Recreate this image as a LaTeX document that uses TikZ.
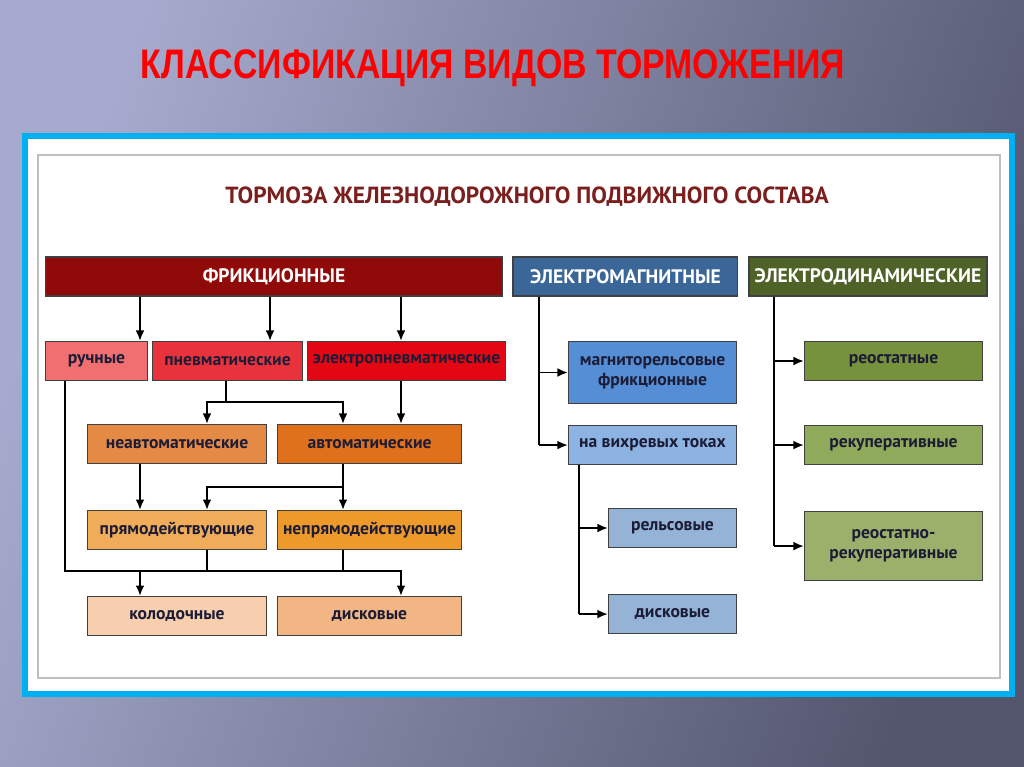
\documentclass[tikz,border=0pt]{standalone}
\usepackage{fontspec}
\setmainfont{PT Sans}
\newfontfamily\titlefont[FakeStretch=0.82]{Liberation Sans}
\usepackage{tikz}
\usetikzlibrary{positioning, arrows.meta, calc}

\definecolor{bgL}{HTML}{A6AACE}
\definecolor{bgR}{HTML}{53566D}
\definecolor{frame}{HTML}{00B0F0}
\definecolor{navytext}{HTML}{1C1C36}
\definecolor{frcol}{HTML}{900A0A}
\definecolor{subcol}{HTML}{7A1E1E}
\definecolor{emcol}{HTML}{3B6698}
\definecolor{edcol}{HTML}{4F6228}
\definecolor{ruchcol}{HTML}{F07072}
\definecolor{pncol}{HTML}{E8333D}
\definecolor{elpncol}{HTML}{E30613}
\definecolor{neavtcol}{HTML}{E48A45}
\definecolor{avtcol}{HTML}{E0711C}
\definecolor{pryamcol}{HTML}{F0AC58}
\definecolor{nepryamcol}{HTML}{EE9A2A}
\definecolor{kolodcol}{HTML}{F8CFAE}
\definecolor{diskcol}{HTML}{F2B584}
\definecolor{mrfcol}{HTML}{558ED5}
\definecolor{vihrcol}{HTML}{8DB3E2}
\definecolor{relscol}{HTML}{95B3D7}
\definecolor{reostcol}{HTML}{76923C}
\definecolor{rekupcol}{HTML}{8FAA5A}
\definecolor{rrcol}{HTML}{9BB06B}

\begin{document}
\begin{tikzpicture}[
  x=0.02cm, y=-0.02cm,
  box/.style={draw=black!75, line width=0.6pt, inner sep=1pt, align=center,
    minimum height=0.78cm, text=navytext,
    font=\bfseries\fontsize{10}{11.5}\selectfont},
  hbox/.style={box, text=white, font=\bfseries\fontsize{11.1}{12}\selectfont},
  ln/.style={line width=1.1pt},
  arr/.style={ln, -{Latex[length=6pt,width=5pt]}},
  arrboth/.style={ln, {Latex[length=6pt,width=5pt]}-{Latex[length=6pt,width=5pt]}},
]
  % background and frame
  \useasboundingbox (0,0) rectangle (1024,767);
  \shade[left color=bgL, right color=bgR, shading angle=70] (0,0) rectangle (1024,767);
  \filldraw[fill=white, draw=frame, line width=0.12cm] (25,136) rectangle (1012,694);
  \draw[black!25, line width=1.2pt] (38,155) rectangle (1000,678);

  \node[text=red, font=\titlefont\bfseries\fontsize{23.5}{26}\selectfont] (title) at (493,68)
    {КЛАССИФИКАЦИЯ ВИДОВ ТОРМОЖЕНИЯ};
  \node[text=subcol, font=\bfseries\fontsize{13.3}{15}\selectfont] (sub) at (527,197)
    {ТОРМОЗА ЖЕЛЕЗНОДОРОЖНОГО ПОДВИЖНОГО СОСТАВА};

  % headers
  \node[hbox, fill=frcol, minimum width=9.16cm] (fr) at (274,276.5) {ФРИКЦИОННЫЕ};
  \node[hbox, fill=emcol, minimum width=4.5cm, right=0.18cm of fr] (em) {ЭЛЕКТРОМАГНИТНЫЕ};
  \node[hbox, fill=edcol, minimum width=4.76cm, right=0.2cm of em] (ed) {ЭЛЕКТРОДИНАМИЧЕСКИЕ};

  % friction branch
  \node[box, fill=ruchcol, minimum width=2.04cm, anchor=north west] (ruch) at (45,341) {ручные};
  \node[box, fill=pncol, minimum width=3cm, right=0.08cm of ruch] (pnevm) {пневматические};
  \node[box, fill=elpncol, minimum width=3.96cm, right=0.08cm of pnevm] (elpn) {электропневматические};

  \node[box, fill=neavtcol, minimum width=3.58cm, anchor=north west] (neavt) at (87,424) {неавтоматические};
  \node[box, fill=avtcol, minimum width=3.68cm, right=0.2cm of neavt] (avt) {автоматические};

  \node[box, fill=pryamcol, minimum width=3.58cm, below=0.92cm of neavt] (pryam) {прямодействующие};
  \node[box, fill=nepryamcol, minimum width=3.68cm, below=0.92cm of avt] (nepryam) {непрямодействующие};

  \node[box, fill=kolodcol, minimum width=3.58cm, below=0.92cm of pryam] (kolod) {колодочные};
  \node[box, fill=diskcol, minimum width=3.68cm, below=0.92cm of nepryam] (disk) {дисковые};

  % electromagnetic branch
  \node[box, fill=mrfcol, minimum width=3.36cm, minimum height=1.24cm, anchor=north west] (mrf) at (568,341)
    {магниторельсовые\\фрикционные};
  \node[box, fill=vihrcol, minimum width=3.36cm, below=0.42cm of mrf] (vihr) {на вихревых токах};
  \node[box, fill=relscol, minimum width=2.56cm, anchor=north west] (rels) at (608,508) {рельсовые};
  \node[box, fill=relscol, minimum width=2.56cm, below=0.92cm of rels] (diskem) {дисковые};

  % electrodynamic branch
  \node[box, fill=reostcol, minimum width=3.56cm, anchor=north west] (reost) at (804,341) {реостатные};
  \node[box, fill=rekupcol, minimum width=3.56cm, below=0.88cm of reost] (rekup) {рекуперативные};
  \node[box, fill=rrcol, minimum width=3.56cm, minimum height=1.38cm, below=0.92cm of rekup] (rr)
    {реостатно-\\рекуперативные};

  % connector columns and buses
  \coordinate (cA) at (140,0);
  \coordinate (cB) at (270,0);
  \coordinate (cC) at (401,0);
  \coordinate (cD) at (207,0);
  \coordinate (cE) at (343,0);
  \coordinate (cF) at (65,0);
  \coordinate (cG) at (226,0);
  \coordinate (cH) at (539,0);
  \coordinate (cI) at (579,0);
  \coordinate (cJ) at (774,0);
  \coordinate (b1) at (0,402);
  \coordinate (b2) at (0,487);
  \coordinate (b3) at (0,571);

  \foreach \c/\n in {cA/ruch, cB/pnevm, cC/elpn}
    \draw[arr] (fr.south -| \c) -- (\n.north -| \c);

  \draw[ln] (pnevm.south -| cG) -- (b1 -| cG);
  \draw[arrboth] (neavt.north -| cD) -- (b1 -| cD) -- (b1 -| cE) -- (avt.north -| cE);
  \draw[arr] (elpn.south -| cC) -- (avt.north -| cC);

  \draw[arr] (neavt.south -| cA) -- (pryam.north -| cA);
  \draw[ln] (avt.south -| cE) -- (b2 -| cE);
  \draw[arrboth] (pryam.north -| cD) -- (b2 -| cD) -- (b2 -| cE) -- (nepryam.north -| cE);

  \draw[arr] (ruch.south -| cF) -- (b3 -| cF) -- (b3 -| cC) -- (disk.north -| cC);
  \draw[arr] (b3 -| cA) -- (kolod.north -| cA);
  \draw[ln] (pryam.south -| cD) -- (b3 -| cD);
  \draw[ln] (nepryam.south -| cE) -- (b3 -| cE);

  \draw[ln] (em.south -| cH) -- (vihr.west -| cH);
  \foreach \n in {mrf, vihr} \draw[arr] (\n.west -| cH) -- (\n.west);

  \draw[ln] (vihr.south -| cI) -- (diskem.west -| cI);
  \foreach \n in {rels, diskem} \draw[arr] (\n.west -| cI) -- (\n.west);

  \draw[ln] (ed.south -| cJ) -- (rr.west -| cJ);
  \foreach \n in {reost, rekup, rr} \draw[arr] (\n.west -| cJ) -- (\n.west);
\end{tikzpicture}
\end{document}
